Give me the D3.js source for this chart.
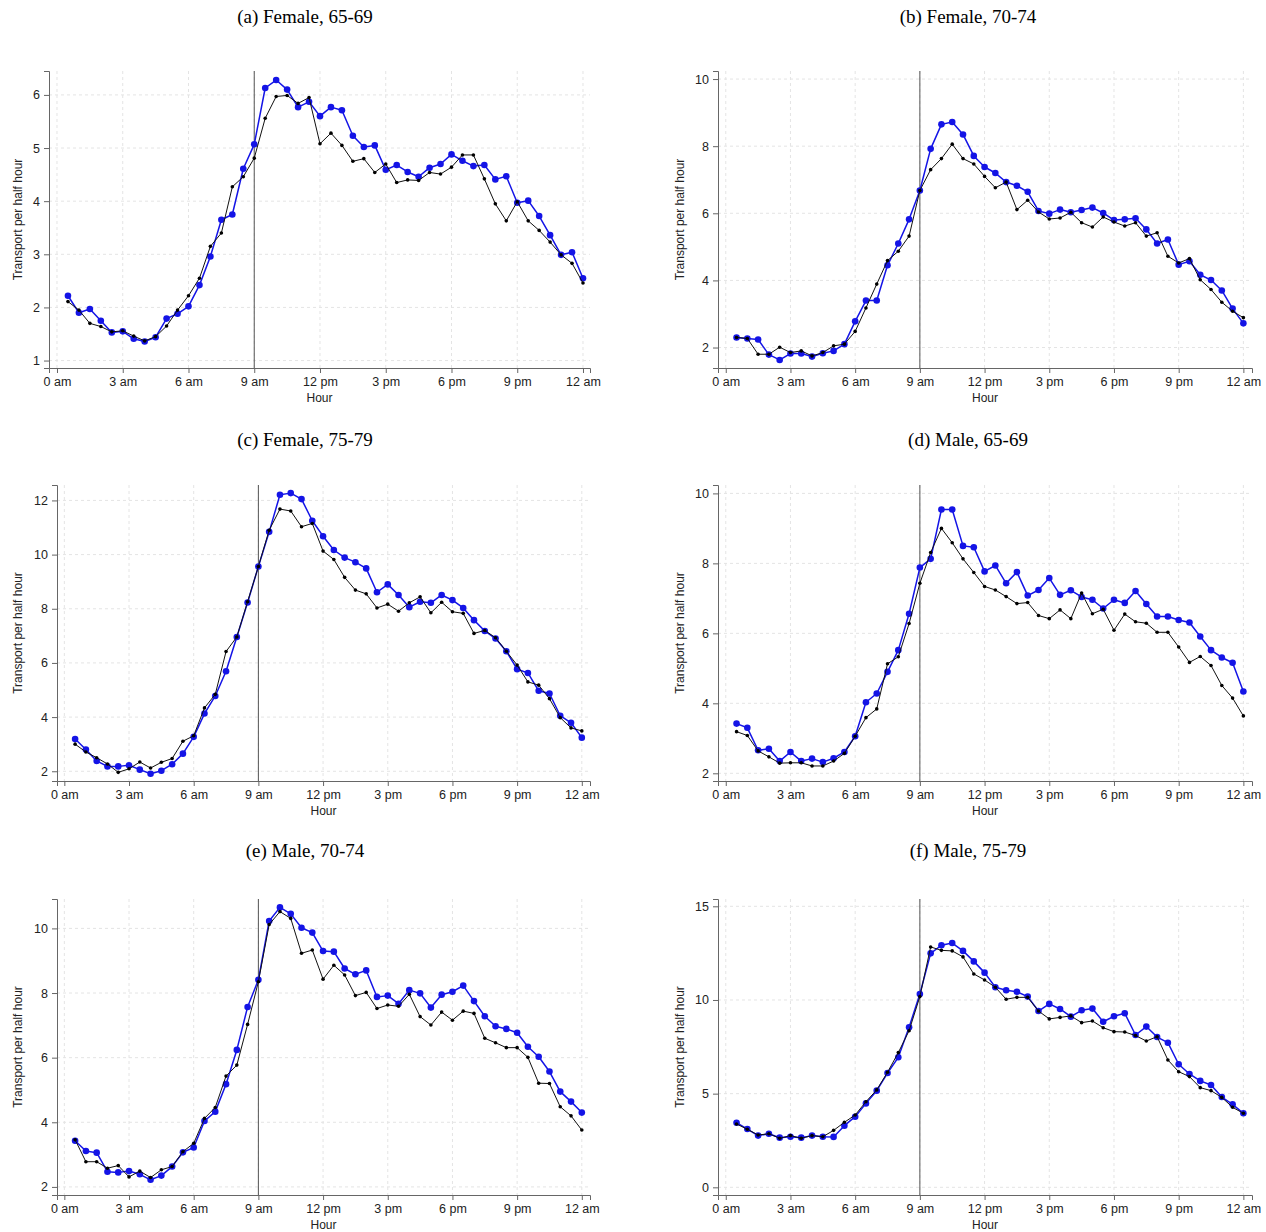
<!DOCTYPE html>
<html>
<head>
<meta charset="utf-8">
<script src="https://cdn.jsdelivr.net/npm/d3@7"></script>
<style>
  body { margin: 0; background: #fff; }
  .tick text { font-family: "Liberation Sans", Arial, sans-serif; font-size: 12.5px; fill: #222; }
  .axis path, .axis line { stroke: #666; }
</style>
</head>
<body>
<div id="chart"></div>
<script>
// half-hour slots, 0:30 .. 24:00
var hours = [0.5,1,1.5,2,2.5,3,3.5,4,4.5,5,5.5,6,6.5,7,7.5,8,8.5,9,9.5,10,10.5,11,11.5,12,
             12.5,13,13.5,14,14.5,15,15.5,16,16.5,17,17.5,18,18.5,19,19.5,20,20.5,21,21.5,22,22.5,23,23.5,24];
var hourTicks = [0,3,6,9,12,15,18,21,24];
var hourLabels = ["0 am","3 am","6 am","9 am","12 pm","3 pm","6 pm","9 pm","12 am"];
var panelTitles = ["(a) Female, 65-69","(b) Female, 70-74","(c) Female, 75-79","(d) Male, 65-69","(e) Male, 70-74","(f) Male, 75-79"];
var yTicks = [[1,2,3,4,5,6],[2,4,6,8,10],[2,4,6,8,10,12],[2,4,6,8,10],[2,4,6,8,10],[0,5,10,15]];

var f6569Blue = [2.22,1.90,1.97,1.75,1.53,1.55,1.41,1.36,1.44,1.79,1.88,2.02,2.42,2.96,3.65,3.75,4.61,5.07,6.13,6.28,6.10,5.77,
                 5.87,5.60,5.77,5.71,5.23,5.02,5.05,4.59,4.68,4.55,4.46,4.63,4.70,4.88,4.76,4.66,4.68,4.41,4.47,3.97,4.01,3.72,3.36,2.99,3.04,2.55];
var f6569Black = [2.11,1.95,1.70,1.64,1.54,1.56,1.46,1.37,1.45,1.65,1.95,2.22,2.55,3.15,3.40,4.27,4.46,4.81,5.56,5.97,5.99,5.84,
                  5.95,5.08,5.28,5.05,4.75,4.80,4.54,4.70,4.35,4.40,4.39,4.54,4.51,4.64,4.87,4.87,4.42,3.95,3.63,3.99,3.63,3.45,3.23,2.99,2.83,2.46];
var f7074Blue = [2.30,2.27,2.24,1.79,1.63,1.82,1.82,1.73,1.83,1.90,2.10,2.78,3.40,3.40,4.45,5.10,5.82,6.68,7.92,8.65,8.72,8.35,
                 7.71,7.38,7.20,6.93,6.82,6.64,6.07,5.99,6.11,6.03,6.10,6.17,6.01,5.80,5.82,5.85,5.52,5.10,5.22,4.47,4.57,4.17,4.01,3.70,3.16,2.72];
var f7074Black = [2.30,2.27,1.80,1.80,2.01,1.85,1.90,1.75,1.85,2.05,2.10,2.48,3.18,3.89,4.59,4.87,5.32,6.68,7.30,7.63,8.06,7.63,
                  7.47,7.10,6.76,6.93,6.11,6.39,6.04,5.83,5.86,6.03,5.72,5.59,5.89,5.74,5.62,5.72,5.32,5.42,4.72,4.52,4.65,4.02,3.73,3.35,3.08,2.89];
var f7579Blue = [3.19,2.80,2.38,2.18,2.18,2.22,2.06,1.91,2.02,2.26,2.65,3.27,4.13,4.78,5.69,6.96,8.23,9.56,10.84,12.21,12.27,12.05,
                 11.25,10.68,10.17,9.89,9.72,9.49,8.61,8.90,8.51,8.06,8.26,8.22,8.51,8.32,8.03,7.58,7.18,6.90,6.43,5.77,5.63,4.97,4.87,4.05,3.79,3.24];
var f7579Black = [3.00,2.71,2.50,2.27,1.96,2.09,2.34,2.12,2.33,2.47,3.11,3.31,4.34,4.84,6.42,6.96,8.26,9.56,10.90,11.68,11.61,11.03,
                  11.15,10.13,9.82,9.16,8.69,8.55,8.03,8.17,7.91,8.22,8.44,7.85,8.24,7.89,7.83,7.09,7.20,6.93,6.43,5.92,5.30,5.18,4.68,3.98,3.60,3.49];
var m6569Blue = [3.42,3.30,2.66,2.70,2.35,2.61,2.35,2.42,2.32,2.43,2.61,3.06,4.03,4.28,4.90,5.52,6.56,7.88,8.13,9.54,9.54,8.50,
                 8.46,7.77,7.94,7.43,7.75,7.08,7.24,7.58,7.10,7.23,7.04,6.96,6.71,6.96,6.87,7.21,6.84,6.48,6.48,6.38,6.31,5.91,5.52,5.31,5.16,4.34];
var m6569Black = [3.19,3.08,2.64,2.47,2.29,2.30,2.30,2.21,2.21,2.35,2.57,3.06,3.59,3.84,5.13,5.33,6.28,7.43,8.31,9.00,8.59,8.13,
                  7.74,7.34,7.24,7.05,6.85,6.88,6.51,6.42,6.67,6.42,7.15,6.56,6.69,6.09,6.55,6.33,6.29,6.03,6.03,5.61,5.17,5.34,5.08,4.51,4.15,3.64];
var m7074Blue = [3.43,3.11,3.06,2.47,2.45,2.49,2.39,2.22,2.35,2.63,3.07,3.22,4.04,4.33,5.18,6.24,7.57,8.41,10.23,10.65,10.45,10.02,
                 9.87,9.30,9.28,8.76,8.58,8.70,7.88,7.92,7.67,8.09,7.99,7.55,7.95,8.04,8.23,7.75,7.28,6.97,6.89,6.77,6.34,6.03,5.57,4.95,4.64,4.30];
var m7074Black = [3.46,2.78,2.78,2.58,2.66,2.31,2.49,2.29,2.53,2.63,3.09,3.35,4.12,4.46,5.43,5.77,7.03,8.35,10.12,10.52,10.31,9.23,
                  9.33,8.43,8.86,8.56,7.92,8.02,7.52,7.63,7.59,7.96,7.27,7.01,7.41,7.16,7.44,7.37,6.60,6.46,6.31,6.31,6.01,5.21,5.20,4.48,4.20,3.76];
var m7579Blue = [3.45,3.11,2.76,2.86,2.65,2.70,2.65,2.76,2.70,2.69,3.29,3.77,4.48,5.16,6.10,6.94,8.54,10.32,12.49,12.92,13.04,12.62,
                 12.06,11.46,10.68,10.52,10.44,10.18,9.41,9.79,9.52,9.11,9.45,9.54,8.84,9.13,9.29,8.13,8.58,8.02,7.72,6.57,6.05,5.68,5.46,4.82,4.43,3.95];
var m7579Black = [3.38,3.10,2.79,2.86,2.62,2.76,2.62,2.76,2.70,3.04,3.47,3.86,4.57,5.20,6.14,7.19,8.36,10.18,12.83,12.65,12.62,12.30,
                  11.39,11.07,10.68,10.04,10.14,10.14,9.41,8.99,9.07,9.15,8.79,8.88,8.52,8.31,8.29,8.10,7.81,8.04,6.80,6.17,5.91,5.32,5.16,4.80,4.27,3.95];

var blueSeries = [f6569Blue, f7074Blue, f7579Blue, m6569Blue, m7074Blue, m7579Blue];
var blackSeries = [f6569Black, f7074Black, f7579Black, m6569Black, m7074Black, m7579Black];

// pixel layout of each panel (axis extents) and the value range it shows
var layout = [
    { left: 49,  right: 590,  top: 71,  bottom: 368,  xdom: [-0.365, 24.32], ydom: [0.86, 6.45],   titleX: 305, titleY: 23,  labelX: 18 },
    { left: 718, right: 1252, top: 71,  bottom: 368,  xdom: [-0.36, 24.4],   ydom: [1.39, 10.24],  titleX: 968, titleY: 23,  labelX: 680 },
    { left: 57,  right: 590,  top: 485, bottom: 781,  xdom: [-0.34, 24.38],  ydom: [1.64, 12.57],  titleX: 305, titleY: 446, labelX: 18 },
    { left: 718, right: 1252, top: 485, bottom: 781,  xdom: [-0.36, 24.4],   ydom: [1.78, 10.24],  titleX: 968, titleY: 446, labelX: 680 },
    { left: 57,  right: 590,  top: 899, bottom: 1195, xdom: [-0.34, 24.38],  ydom: [1.75, 10.91],  titleX: 305, titleY: 857, labelX: 18 },
    { left: 718, right: 1252, top: 899, bottom: 1195, xdom: [-0.36, 24.4],   ydom: [-0.41, 15.39], titleX: 968, titleY: 857, labelX: 680 }
];

var svg = d3.select("#chart")
    .append("svg")
    .attr("width", 1266)
    .attr("height", 1232)
    .style("background", "#fff");

var blue = "#1414e6";

layout.forEach(function (p, i) {
    var x = d3.scaleLinear().domain(p.xdom).range([p.left, p.right]);
    var y = d3.scaleLinear().domain(p.ydom).range([p.bottom, p.top]);
    var g = svg.append("g");

    // grid
    g.selectAll(".hgrid").data(yTicks[i]).enter()
        .append("line")
        .attr("x1", p.left).attr("x2", p.right)
        .attr("y1", function (d) { return y(d); })
        .attr("y2", function (d) { return y(d); })
        .attr("stroke", "#e4e4e4").attr("stroke-dasharray", "3,3");
    g.selectAll(".vgrid").data(hourTicks).enter()
        .append("line")
        .attr("x1", function (d) { return x(d); })
        .attr("x2", function (d) { return x(d); })
        .attr("y1", p.top).attr("y2", p.bottom)
        .attr("stroke", "#e4e4e4").attr("stroke-dasharray", "3,3");

    // 9 am marker
    g.append("line")
        .attr("x1", x(9)).attr("x2", x(9))
        .attr("y1", p.top).attr("y2", p.bottom)
        .attr("stroke", "#555").attr("stroke-width", 1);

    g.append("g")
        .attr("class", "axis")
        .attr("transform", "translate(0," + p.bottom + ")")
        .call(d3.axisBottom(x).tickValues(hourTicks)
            .tickFormat(function (d, k) { return hourLabels[k]; })
            .tickSizeOuter(0).tickSize(5).tickPadding(4));

    g.append("g")
        .attr("class", "axis")
        .attr("transform", "translate(" + p.left + ",0)")
        .call(d3.axisLeft(y).tickValues(yTicks[i])
            .tickFormat(d3.format("d"))
            .tickSizeOuter(0).tickSize(5).tickPadding(4));

    g.append("text")
        .attr("x", (p.left + p.right) / 2)
        .attr("y", p.bottom + 34)
        .attr("text-anchor", "middle")
        .style("font-family", "Liberation Sans, Arial, sans-serif")
        .style("font-size", "12px")
        .attr("fill", "#222")
        .text("Hour");

    g.append("text")
        .attr("transform", "translate(" + p.labelX + "," + ((p.top + p.bottom) / 2) + ") rotate(-90)")
        .attr("dy", "0.35em")
        .attr("text-anchor", "middle")
        .style("font-family", "Liberation Sans, Arial, sans-serif")
        .style("font-size", "12px")
        .attr("fill", "#222")
        .text("Transport per half hour");

    svg.append("text")
        .attr("x", p.titleX)
        .attr("y", p.titleY)
        .attr("text-anchor", "middle")
        .style("font-family", "Liberation Serif, 'DejaVu Serif', serif")
        .style("font-size", "19px")
        .attr("fill", "#000")
        .text(panelTitles[i]);

    var line = d3.line()
        .x(function (d, k) { return x(hours[k]); })
        .y(function (d) { return y(d); });

    // blue series
    g.append("path")
        .datum(blueSeries[i])
        .attr("fill", "none")
        .attr("stroke", blue)
        .attr("stroke-width", 1.5)
        .attr("stroke-linejoin", "round")
        .attr("d", line);
    g.selectAll(".dotBlue").data(blueSeries[i]).enter()
        .append("circle")
        .attr("r", 3.3)
        .attr("cx", function (d, k) { return x(hours[k]); })
        .attr("cy", function (d) { return y(d); })
        .attr("fill", blue);

    // black series
    g.append("path")
        .datum(blackSeries[i])
        .attr("fill", "none")
        .attr("stroke", "#111")
        .attr("stroke-width", 1)
        .attr("stroke-linejoin", "round")
        .attr("d", line);
    g.selectAll(".dotBlack").data(blackSeries[i]).enter()
        .append("circle")
        .attr("r", 1.8)
        .attr("cx", function (d, k) { return x(hours[k]); })
        .attr("cy", function (d) { return y(d); })
        .attr("fill", "#000");
});
</script>
</body>
</html>
